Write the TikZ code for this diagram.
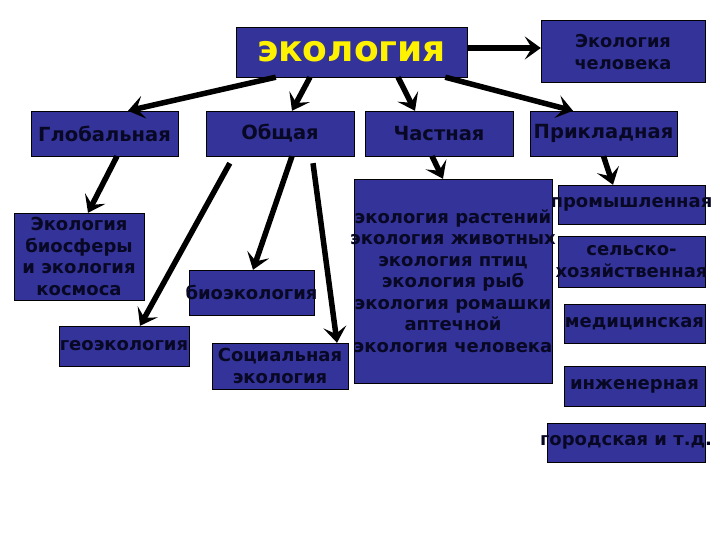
\documentclass[tikz,border=0pt]{standalone}
\usepackage{fontspec}
\setmainfont{DejaVu Sans}
\usetikzlibrary{arrows.meta}

\definecolor{ecoblue}{RGB}{51,51,153}
\definecolor{ecotext}{RGB}{8,8,36}

\tikzset{
  ecobox/.style 2 args={draw=black, thin, fill=ecoblue, minimum width=#1, minimum height=#2, inner sep=0pt},
  ecotxt/.style={text=ecotext, font=\bfseries\fontsize{18}{21.5}\selectfont, align=center, inner sep=0pt},
  ecohead/.style={ecotxt, font=\bfseries\fontsize{19.5}{22}\selectfont},
  ecoarrow/.style={line width=5.5pt, -{Stealth[length=16pt,width=23pt,inset=7pt]}}
}

\begin{document}
\begin{tikzpicture}[x=1pt,y=-1pt]
  \useasboundingbox (0,0) rectangle (720,540);

  % top level
  \node[ecobox={231}{50}] (eco) at (351.5,52) {};
  \node[ecotxt, text=yellow, font=\bfseries\fontsize{36}{40}\selectfont] (eco-t) at (eco) {экология};
  \node[ecobox={164}{62}] (human) at (623,51) {};
  \node[ecotxt, font=\bfseries\fontsize{17.8}{22}\selectfont] (human-t) at ([yshift=-1.5pt]human) {Экология\\человека};

  % second level
  \node[ecobox={147}{45}] (glob) at (104.5,133.5) {};
  \node[ecohead] (glob-t) at (glob) {Глобальная};
  \node[ecobox={148}{45}] (obsh) at (280,133.5) {};
  \node[ecohead] (obsh-t) at (obsh) {Общая};
  \node[ecobox={148}{45}] (chast) at (439,133.5) {};
  \node[ecohead] (chast-t) at (chast) {Частная};
  \node[ecobox={147}{45}] (prikl) at (603.5,133.5) {};
  \node[ecohead] (prikl-t) at (prikl) {Прикладная};

  % branches of the general and global ecology
  \node[ecobox={130}{87}] (bios) at (79,256.5) {};
  \node[ecotxt] (bios-t) at (bios) {Экология\\биосферы\\и экология\\космоса};
  \node[ecobox={130}{40}] (geo) at (124,346) {};
  \node[ecotxt] (geo-t) at (geo) {геоэкология};
  \node[ecobox={125}{45}] (bioeco) at (251.5,292.5) {};
  \node[ecotxt] (bioeco-t) at (bioeco) {биоэкология};
  \node[ecobox={136}{46}] (soc) at (280,366) {};
  \node[ecotxt] (soc-t) at (soc) {Социальная\\экология};

  % particular ecology
  \node[ecobox={198}{204}] (part) at (453,281) {};
  \node[ecotxt] (part-t) at (part) {экология растений\\экология животных\\экология птиц\\экология рыб\\экология ромашки\\аптечной\\экология человека};

  % applied ecology
  \node[ecobox={147}{39}] (prom) at (631.5,204.5) {};
  \node[ecotxt] (prom-t) at (prom) {промышленная};
  \node[ecobox={147}{51}] (selh) at (631.5,261.5) {};
  \node[ecotxt] (selh-t) at (selh) {сельско-\\хозяйственная};
  \node[ecobox={141}{39}] (med) at (634.5,323.5) {};
  \node[ecotxt] (med-t) at (med) {медицинская};
  \node[ecobox={141}{40}] (eng) at (634.5,386) {};
  \node[ecotxt] (eng-t) at (eng) {инженерная};
  \node[ecobox={158}{39}] (city) at (626,442.5) {};
  \node[ecotxt] (city-t) at (city) {городская и т.д.};

  % arrows
  \draw[ecoarrow] ([xshift=40pt]eco.south west) -- ([xshift=23.5pt]glob.north);
  \draw[ecoarrow] ([xshift=-41.5pt]eco.south) -- ([xshift=12pt]obsh.north);
  \draw[ecoarrow] ([xshift=46.5pt]eco.south) -- ([xshift=-24pt]chast.north);
  \draw[ecoarrow] ([xshift=-22pt]eco.south east) -- ([xshift=-30.5pt]prikl.north);
  \draw[ecoarrow] ([yshift=4pt]eco.east) -- ([yshift=3pt]human.west);

  \draw[ecoarrow] ([xshift=12.5pt]glob.south) -- ([xshift=9pt]bios.north);
  \draw[ecoarrow] ([xshift=24pt,yshift=-7pt]obsh.south west) -- ([xshift=16pt]geo.north);
  \draw[ecoarrow] ([xshift=12pt]obsh.south) -- ([xshift=1.5pt]bioeco.north);
  \draw[ecoarrow] ([xshift=33pt,yshift=-7pt]obsh.south) -- ([xshift=57pt]soc.north);
  \draw[ecoarrow] ([xshift=-7pt]chast.south) -- ([xshift=-10pt]part.north);
  \draw[ecoarrow] (prikl.south) -- ([xshift=-18.5pt]prom.north);
\end{tikzpicture}
\end{document}
